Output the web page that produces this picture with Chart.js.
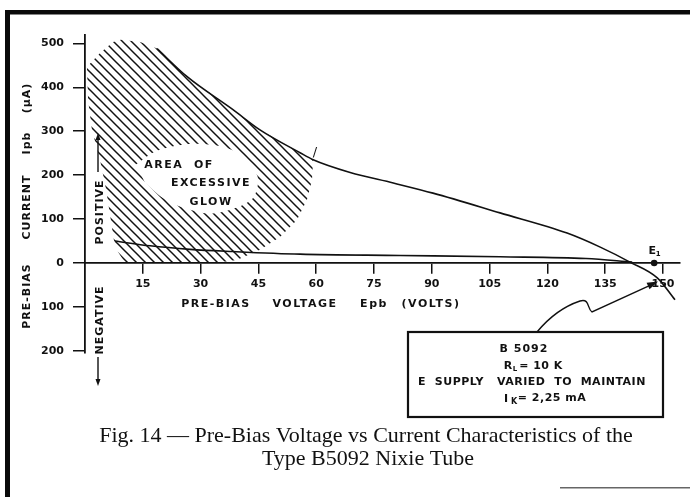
<!DOCTYPE html>
<html>
<head>
<meta charset="utf-8">
<title>Pre-Bias Voltage vs Current - B5092 Nixie Tube</title>
<script src="https://cdn.jsdelivr.net/npm/chart.js@4.4.1/dist/chart.umd.min.js"></script>
<style>
  html, body { margin: 0; padding: 0; background: #fff; }
  #wrap { position: relative; width: 690px; height: 497px; }
</style>
</head>
<body>
<div id="wrap"><canvas id="biasChart" width="690" height="497"></canvas></div>
<script>
// axis ticks
const voltageTicks = [15, 30, 45, 60, 75, 90, 105, 120, 135, 150];
const currentTicks = [500, 400, 300, 200, 100, 0, -100, -200];

// pre-bias characteristic (volts / microamps)
const mainCurveV = [18.7, 26.5, 38.4, 45.4, 55.8, 59.2, 68.8, 80.0, 90.3, 107.7, 125.1, 133.7, 141.4, 148.5, 153.1];
const mainCurveI = [488, 424, 349, 303, 251, 235, 206, 182, 159, 114, 68, 36, 2, -34, -84];

const lowerCurveV = [7.8, 16.9, 27.3, 38.4, 55.8, 81.8, 107.7, 130, 142];
const lowerCurveI = [50, 39, 31, 26, 20, 17, 14, 10, 2];

// E1 point on the voltage axis
const e1Voltage = 147.7;

// area of excessive glow (outline) and the clear patch holding its label
const glowOuterV = [0.5, 3.9, 7.3, 9.3, 14.3, 18.7, 26.5, 38.4, 45.4, 55.8, 59.2, 58.9, 57.6, 55.0, 50.6, 45.4, 39.4, 33.7, 10.4, 8.6, 7.5, 6.5, 5.5, 3.9, 1.8, 0.8];
const glowOuterI = [446, 478, 503, 508, 503, 488, 424, 349, 303, 251, 235, 189, 144, 98, 59, 30, 7, 0, 0, 25, 52, 109, 166, 235, 303, 371];

const glowHoleV = [13.2, 18.5, 27.0, 35.0, 41.0, 44.8, 43.8, 39.4, 32.4, 25.4, 20.2, 15.6];
const glowHoleI = [224, 255, 271, 266, 243, 196, 150, 126, 112, 126, 148, 182];

const LETTERING = '"DejaVu Sans", sans-serif';

const toPoints = (xs, ys) => xs.map((x, i) => ({ x: x, y: ys[i] }));

function makeHatch() {
  const size = 9;
  const c = document.createElement("canvas");
  c.width = size;
  c.height = size;
  const g = c.getContext("2d");
  g.strokeStyle = "#111";
  g.lineWidth = 1.5;
  [-size, 0, size].forEach((k) => {
    g.beginPath();
    g.moveTo(-2, -2 + k);
    g.lineTo(size + 2, size + 2 + k);
    g.stroke();
  });
  return g.createPattern(c, "repeat");
}

function text(ctx, str, x, y, opts) {
  const o = opts || {};
  ctx.save();
  ctx.font = o.font || "bold 11px " + LETTERING;
  ctx.fillStyle = o.color || "#111";
  ctx.textAlign = o.align || "center";
  ctx.textBaseline = "middle";
  ctx.letterSpacing = o.spacing || "0px";
  ctx.translate(x, y);
  if (o.rotate) ctx.rotate(o.rotate);
  ctx.fillText(str, 0, 0);
  ctx.restore();
}

function arrowHead(ctx, x, y, angle, len, half) {
  ctx.save();
  ctx.translate(x, y);
  ctx.rotate(angle);
  ctx.beginPath();
  ctx.moveTo(0, 0);
  ctx.lineTo(-len, -half);
  ctx.lineTo(-len, half);
  ctx.closePath();
  ctx.fill();
  ctx.restore();
}

const paperPlugin = {
  id: "paper",
  beforeDraw(chart) {
    const ctx = chart.ctx;
    ctx.save();
    ctx.fillStyle = "#fff";
    ctx.fillRect(0, 0, chart.width, chart.height);
    ctx.restore();
  },
  afterDraw(chart) {
    const ctx = chart.ctx;
    const xs = chart.scales.x;
    const ys = chart.scales.y;

    // axis titles
    const yTitle = [["PRE-BIAS", 296], ["CURRENT", 207], ["Ipb", 143], ["(\u03bcA)", 98]];
    yTitle.forEach(([t, y]) => text(ctx, t, 27, y, { rotate: -Math.PI / 2, spacing: "1px" }));

    const xTitle = [["PRE-BIAS", 216], ["VOLTAGE", 305], ["Epb", 374], ["(VOLTS)", 431]];
    xTitle.forEach(([t, x]) => text(ctx, t, x, 304, { spacing: "1.5px" }));

    // positive / negative direction marks
    text(ctx, "POSITIVE", 100, 212, { rotate: -Math.PI / 2, spacing: "1px" });
    text(ctx, "NEGATIVE", 100, 320, { rotate: -Math.PI / 2, spacing: "1px" });
    ctx.save();
    ctx.strokeStyle = "#111";
    ctx.fillStyle = "#111";
    ctx.lineWidth = 1.4;
    ctx.beginPath();
    ctx.moveTo(98, 172);
    ctx.lineTo(98, 138);
    ctx.moveTo(98, 357);
    ctx.lineTo(98, 380);
    ctx.stroke();
    arrowHead(ctx, 98, 133, -Math.PI / 2, 7, 2.5);
    arrowHead(ctx, 98, 386, Math.PI / 2, 7, 2.5);
    ctx.restore();

    // glow label
    text(ctx, "AREA  OF", 179, 165, { spacing: "1.5px" });
    text(ctx, "EXCESSIVE", 211, 183, { spacing: "1.5px" });
    text(ctx, "GLOW", 211, 202, { spacing: "1.5px" });

    // curve marker
    text(ctx, "/", 315, 153, { font: "13px " + LETTERING });

    // E1 label
    const ex = xs.getPixelForValue(e1Voltage);
    const ey = ys.getPixelForValue(0);
    text(ctx, "E", ex - 2, ey - 12, { font: "bold 11px " + LETTERING });
    text(ctx, "1", ex + 4, ey - 9, { font: "bold 7px " + LETTERING });

    // callout box
    const bx = 408, by = 332, bw = 255, bh = 85;
    ctx.save();
    ctx.strokeStyle = "#111";
    ctx.lineWidth = 2.2;
    ctx.strokeRect(bx, by, bw, bh);
    ctx.restore();
    text(ctx, "B 5092", 524, 349, { spacing: "1px" });
    text(ctx, "R", 508, 366);
    text(ctx, "L", 515, 369, { font: "bold 7px " + LETTERING });
    text(ctx, "= 10 K", 541, 366, { spacing: "0.5px" });
    text(ctx, "E  SUPPLY   VARIED  TO  MAINTAIN", 532, 382, { spacing: "0.5px" });
    text(ctx, "I", 506, 399);
    text(ctx, "K", 514, 402, { font: "bold 8px " + LETTERING });
    text(ctx, "= 2,25 mA", 552, 398, { spacing: "0.5px" });

    // squiggly pointer from the box to the curve
    const tx = xs.getPixelForValue(148.7);
    const ty = ys.getPixelForValue(-42);
    ctx.save();
    ctx.strokeStyle = "#111";
    ctx.fillStyle = "#111";
    ctx.lineWidth = 1.4;
    ctx.beginPath();
    ctx.moveTo(537, by);
    ctx.quadraticCurveTo(556, 309, 580, 301);
    ctx.bezierCurveTo(590, 298, 587, 309, 592, 312);
    ctx.lineTo(tx - 8, ty + 4);
    ctx.stroke();
    arrowHead(ctx, tx, ty, Math.atan2(ty - 312, tx - 592), 11, 3.5);
    ctx.restore();

    // caption
    const serif = '22px "Liberation Serif", "Times New Roman", serif';
    text(ctx, "Fig. 14 \u2014 Pre-Bias Voltage vs Current Characteristics of the", 366, 436, { font: serif });
    text(ctx, "Type B5092 Nixie Tube", 368, 459, { font: serif });

    // page frame
    ctx.save();
    ctx.fillStyle = "#0a0a0a";
    ctx.fillRect(5, 10, 685, 4.5);
    ctx.fillRect(5, 10, 5, 487);
    ctx.fillStyle = "#666";
    ctx.fillRect(560, 487, 130, 1.5);
    ctx.restore();
  },
};

const hatch = makeHatch();

new Chart(document.getElementById("biasChart"), {
  type: "scatter",
  data: {
    datasets: [
      {
        label: "E1",
        data: [{ x: e1Voltage, y: 0 }],
        pointRadius: 3.3,
        pointBackgroundColor: "#111",
        pointBorderWidth: 0,
        showLine: false,
        order: 0,
      },
      {
        label: "Pre-bias current",
        data: toPoints(mainCurveV, mainCurveI),
        showLine: true,
        borderColor: "#111",
        borderWidth: 1.6,
        pointRadius: 0,
        cubicInterpolationMode: "monotone",
        fill: false,
        order: 1,
      },
      {
        label: "Lower branch",
        data: toPoints(lowerCurveV, lowerCurveI),
        showLine: true,
        borderColor: "#111",
        borderWidth: 1.6,
        pointRadius: 0,
        cubicInterpolationMode: "monotone",
        fill: false,
        order: 1,
      },
      {
        label: "Glow label patch",
        data: toPoints(glowHoleV, glowHoleI),
        showLine: true,
        borderColor: "rgba(0,0,0,0)",
        borderWidth: 0,
        backgroundColor: "#fff",
        fill: "shape",
        tension: 0.3,
        pointRadius: 0,
        order: 2,
      },
      {
        label: "Area of excessive glow",
        data: toPoints(glowOuterV, glowOuterI),
        showLine: true,
        borderColor: "rgba(0,0,0,0)",
        borderWidth: 0,
        backgroundColor: hatch,
        fill: "shape",
        tension: 0,
        pointRadius: 0,
        order: 3,
      },
    ],
  },
  options: {
    responsive: false,
    animation: false,
    devicePixelRatio: 1,
    layout: { padding: { left: 0, top: 35, right: 10, bottom: 144 } },
    plugins: {
      legend: { display: false },
      tooltip: { enabled: false },
    },
    scales: {
      x: {
        type: "linear",
        min: 0,
        max: 154.4,
        position: { y: 0 },
        afterBuildTicks: (s) => {
          s.ticks = voltageTicks.map((v) => ({ value: v }));
        },
        afterFit: (s) => {
          s.height = 0;
        },
        border: { color: "#111", width: 1.8 },
        grid: { drawOnChartArea: false, tickLength: 10, color: "#111", lineWidth: 1.5 },
        ticks: {
          color: "#111",
          padding: 5,
          maxRotation: 0,
          autoSkip: false,
          font: { family: LETTERING, size: 11, weight: "bold" },
        },
      },
      y: {
        type: "linear",
        min: -205,
        max: 519,
        afterBuildTicks: (s) => {
          s.ticks = currentTicks.map((v) => ({ value: v }));
        },
        afterFit: (s) => {
          s.width = 85;
        },
        border: { color: "#111", width: 1.8 },
        grid: { drawOnChartArea: false, tickLength: 12, color: "#111", lineWidth: 1.5 },
        ticks: {
          color: "#111",
          padding: 9,
          font: { family: LETTERING, size: 11, weight: "bold" },
          callback: (v) => Math.abs(v),
        },
      },
    },
  },
  plugins: [paperPlugin],
});
</script>
</body>
</html>
